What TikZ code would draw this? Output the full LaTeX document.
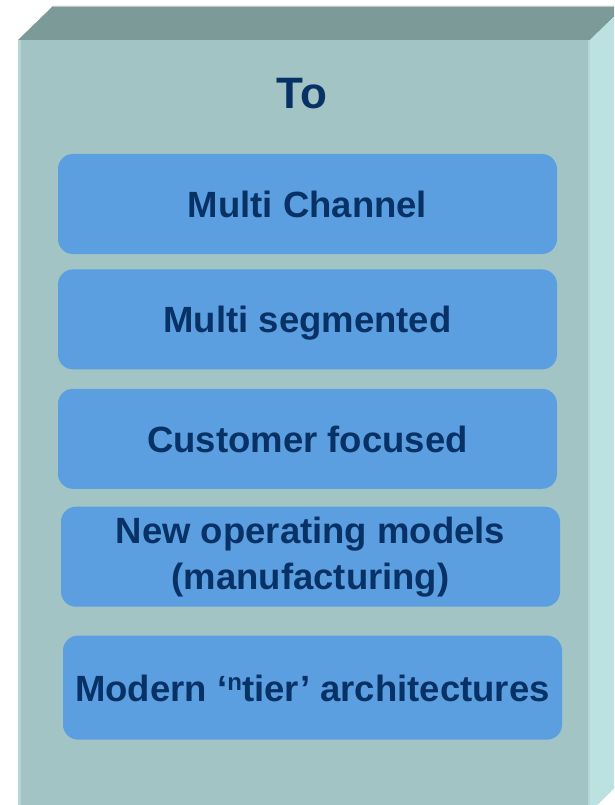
\documentclass[tikz,border=0pt]{standalone}
\usepackage{fontspec}
\setmainfont{Liberation Sans}
\usetikzlibrary{positioning}
\definecolor{faceFront}{RGB}{162,196,196}
\definecolor{faceTop}{RGB}{123,154,152}
\definecolor{faceSide}{RGB}{187,225,225}
\definecolor{edgeLight}{RGB}{180,215,213}
\definecolor{itemBlue}{RGB}{91,159,224}
\definecolor{itemText}{RGB}{8,50,102}

\begin{document}
\begin{tikzpicture}[
  x=1pt, y=-1pt,
  item/.style={fill=itemBlue, rounded corners=15pt, align=center, minimum width=499pt, minimum height=100pt,
    inner sep=2pt, text=itemText, font=\fontsize{36.5}{46}\selectfont\bfseries},
  oneline/.style={text height=27pt, text depth=0pt},
  title/.style={text=itemText, font=\fontsize{44}{50}\selectfont\bfseries},
  node distance=16pt
]
\useasboundingbox (0,0) rectangle (614,805);

% --- Box faces ---
\begin{scope}
\clip (0,0) rectangle (614,805);
\fill[faceTop] (18,40) -- (53,6) -- (625,6) -- (590,40) -- cycle;
\fill[faceSide] (590,40) -- (625,6) -- (625,778) -- (590,812) -- cycle;
\fill[faceFront] (18,40) rectangle (590,812);
\fill[edgeLight] (18,40) rectangle (21,812);
\draw[edgeLight, line width=1.5pt] (589,40) -- (589,812);
\draw[black!22, line width=1pt] (53,6.5) -- (614,6.5);
\end{scope}

% --- Heading ---
\node[title] (to) at (302,94) {To};

% --- Items ---
\node[item, oneline] (channel) at (307.5,204) {Multi Channel};

\node[item, oneline, below=15pt of channel] (segmented) {Multi segmented};

\node[item, oneline, below=19pt of segmented] (customer) {Customer focused};

\node[item, below=17.5pt of customer, xshift=3pt] (models) {New operating models\\(manufacturing)};

\node[item, oneline, minimum height=104pt, below=28.5pt of models, xshift=2pt] (tier)
  {Modern ‘\raisebox{0.3em}{\fontsize{24}{24}\selectfont n}tier’ architectures};

\end{tikzpicture}
\end{document}
